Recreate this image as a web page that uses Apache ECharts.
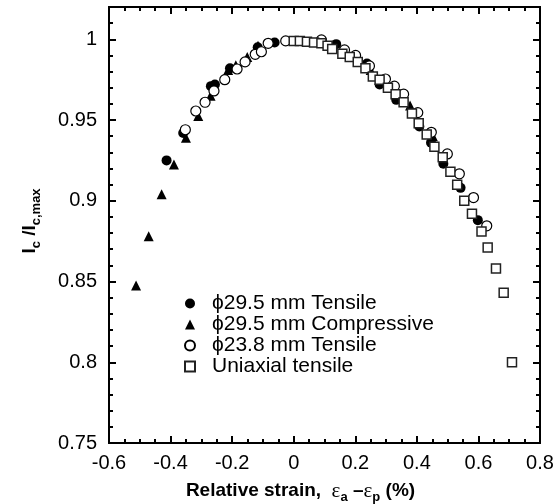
<!DOCTYPE html>
<html>
<head>
<meta charset="utf-8">
<script src="https://cdn.jsdelivr.net/npm/echarts@6/dist/echarts.min.js"></script>
<style>
  html, body { margin: 0; padding: 0; background: #fff; }
  #chart { width: 558px; height: 504px; }
</style>
</head>
<body>
<div id="chart"></div>
<script>
// data: [relative strain %, Ic/Ic,max]
var tensile295 = [
  [-0.413, 0.925], [-0.359, 0.942], [-0.269, 0.971], [-0.256, 0.972], [-0.207, 0.982],
  [-0.117, 0.995], [-0.062, 0.998], [0.138, 0.997], [0.238, 0.985], [0.279, 0.972],
  [0.333, 0.9625], [0.408, 0.946], [0.446, 0.936], [0.486, 0.923], [0.542, 0.908], [0.598, 0.888]
];
var compressive295 = [
  [-0.512, 0.8476], [-0.471, 0.878], [-0.429, 0.904], [-0.389, 0.9225], [-0.350, 0.939],
  [-0.310, 0.9525], [-0.270, 0.965], [-0.213, 0.981], [-0.188, 0.984], [-0.151, 0.989],
  [-0.116, 0.996], [0.25, 0.981], [0.378, 0.959], [0.452, 0.940]
];
var tensile238 = [
  [-0.352, 0.944], [-0.318, 0.9556], [-0.288, 0.961], [-0.259, 0.968], [-0.224, 0.975],
  [-0.184, 0.9816], [-0.158, 0.986], [-0.125, 0.9907], [-0.105, 0.9923], [-0.083, 0.9975],
  [-0.026, 0.999], [0.090, 0.9996], [0.165, 0.9934], [0.201, 0.990], [0.246, 0.9835],
  [0.298, 0.9754], [0.327, 0.971], [0.357, 0.966], [0.403, 0.9546], [0.447, 0.9424],
  [0.499, 0.929], [0.538, 0.9167], [0.584, 0.902], [0.627, 0.8845]
];
var uniaxial = [
  [0.0, 0.999], [0.02, 0.999], [0.043, 0.9985], [0.066, 0.998], [0.09, 0.9975],
  [0.11, 0.996], [0.125, 0.994], [0.158, 0.991], [0.182, 0.989], [0.208, 0.986],
  [0.233, 0.982], [0.257, 0.977], [0.279, 0.975], [0.306, 0.970], [0.331, 0.966],
  [0.357, 0.961], [0.384, 0.954], [0.406, 0.948], [0.432, 0.941], [0.457, 0.9335],
  [0.484, 0.927], [0.509, 0.918], [0.531, 0.910], [0.554, 0.900], [0.579, 0.892],
  [0.610, 0.881], [0.630, 0.871], [0.657, 0.858], [0.682, 0.843], [0.709, 0.800]
];
var seriesNames = ['\u03d529.5 mm Tensile', '\u03d529.5 mm Compressive', '\u03d523.8 mm Tensile', 'Uniaxial tensile'];

var xMin = -0.6, xMax = 0.8, xStep = 0.2;
var yMin = 0.75, yMax = 1.02, yStep = 0.05, yMinor = 0.01;

var font = 'Liberation Sans, Arial, sans-serif';
var nameRich = {
  b: { fontSize: 19, fontWeight: 'bold', fontFamily: font, color: '#000', lineHeight: 26 },
  s: { fontSize: 13, fontWeight: 'bold', fontFamily: font, color: '#000', lineHeight: 13, verticalAlign: 'bottom' },
  e: { fontSize: 21, fontFamily: 'Liberation Serif, serif', color: '#000', lineHeight: 26 }
};

var chart = echarts.init(document.getElementById('chart'));

function xAx(pos, labels) {
  return {
    type: 'value', position: pos, min: xMin, max: xMax, interval: xStep,
    axisLine: { show: true, onZero: false, lineStyle: { color: '#000', width: 2 } },
    axisTick: { show: true, inside: true, length: 7, lineStyle: { color: '#000', width: 2 } },
    minorTick: { show: true, splitNumber: 4, length: 4, lineStyle: { color: '#000', width: 2 } },
    axisLabel: { show: labels, color: '#000', fontSize: 20, fontFamily: font, margin: 10 },
    splitLine: { show: false }
  };
}
function yAx(pos, step, len, labels) {
  return {
    type: 'value', position: pos, min: yMin, max: yMax, interval: step,
    axisLine: { show: true, onZero: false, lineStyle: { color: '#000', width: 2 } },
    axisTick: { show: true, inside: true, length: len, lineStyle: { color: '#000', width: 2 } },
    axisLabel: { show: labels, showMaxLabel: false, color: '#000', fontSize: 20, fontFamily: font, margin: 12 },
    splitLine: { show: false }
  };
}

var xBottom = xAx('bottom', true);
xBottom.name = '{b|Relative strain,  }{e|\u03b5}{s|a}{b| \u2013}{e|\u03b5}{s|p}{b| (%)}';
xBottom.nameLocation = 'middle';
xBottom.nameGap = 35;
xBottom.nameTextStyle = { rich: nameRich, padding: [0, 48, 0, 0] };

var yLeft = yAx('left', yStep, 7, true);
yLeft.name = '{b|I}{s|c}{b| /I}{s|c,max}';
yLeft.nameLocation = 'middle';
yLeft.nameGap = 66;
yLeft.nameTextStyle = { rich: nameRich, padding: [0, 0, 0, 8] };

chart.setOption({
  backgroundColor: '#fff',
  animation: false,
  grid: { left: 109, right: 18, top: 7, bottom: 61, containLabel: false, outerBoundsMode: 'none' },
  xAxis: [xBottom, xAx('top', false)],
  yAxis: [yLeft, yAx('left', yMinor, 4, false), yAx('right', yStep, 7, false), yAx('right', yMinor, 4, false)],
  legend: {
    orient: 'vertical', left: 179, top: 288,
    itemWidth: 10, itemHeight: 10, itemGap: 0,
    textStyle: { fontSize: 21, fontFamily: font, color: '#000', lineHeight: 21, padding: [0, 0, 0, 12] },
    data: seriesNames
  },
  series: [
    { name: seriesNames[0], type: 'scatter', data: tensile295, symbol: 'circle', symbolSize: 10,
      itemStyle: { color: '#000', opacity: 1 } },
    { name: seriesNames[1], type: 'scatter', data: compressive295, symbol: 'triangle', symbolSize: 10,
      itemStyle: { color: '#000', opacity: 1 } },
    { name: seriesNames[2], type: 'scatter', data: tensile238, symbol: 'circle', symbolSize: 10,
      itemStyle: { color: '#fff', borderColor: '#000', borderWidth: 1.2, opacity: 1 } },
    { name: seriesNames[3], type: 'scatter', data: uniaxial, symbol: 'rect', symbolSize: 9,
      itemStyle: { color: '#fff', borderColor: '#222', borderWidth: 1.5, opacity: 1 } }
  ]
});
</script>
</body>
</html>
